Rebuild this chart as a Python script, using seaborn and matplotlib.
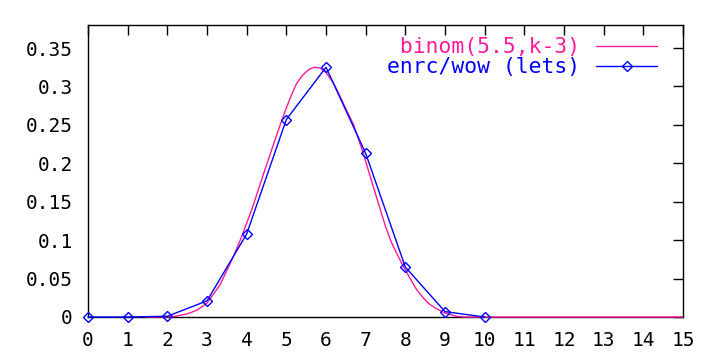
import matplotlib
matplotlib.use("Agg")
import matplotlib.pyplot as plt
import seaborn as sns
import pandas as pd

# measured series (enrc/wow (lets))
k_vals = [0, 1, 2, 3, 4, 5, 6, 7, 8, 9, 10]
lets_vals = [0.0, 0.0, 0.001, 0.021, 0.108, 0.257, 0.325, 0.213, 0.065, 0.007, 0.0]

# curve binom(5.5,k-3), values
curve_x = [1.5, 2.0, 2.15, 2.5, 2.75, 3.0, 3.33, 3.66, 3.83, 4.0, 4.15, 4.29, 4.45, 4.6,
           4.75, 4.9, 5.0, 5.13, 5.26, 5.4, 5.51, 5.6, 5.7, 5.85, 6.0, 6.18, 6.3, 6.5,
           6.69, 6.94, 7.19, 7.35, 7.5, 7.65, 7.8, 7.95, 8.1, 8.28, 8.45, 8.6, 8.78,
           8.96, 9.29, 9.5, 15.0]
curve_y = [0.0, 0.0002, 0.0005, 0.004, 0.009, 0.018, 0.042, 0.078, 0.099, 0.122, 0.143,
           0.165, 0.19, 0.213, 0.236, 0.258, 0.272, 0.289, 0.304, 0.314, 0.3195, 0.323,
           0.325, 0.324, 0.318, 0.305, 0.293, 0.271, 0.251, 0.213, 0.170, 0.143, 0.118,
           0.097, 0.081, 0.066, 0.052, 0.036, 0.025, 0.017, 0.011, 0.006, 0.0008, 0.0,
           0.0]

x_ticks = list(range(0, 16))
y_ticks = [0, 0.05, 0.1, 0.15, 0.2, 0.25, 0.3, 0.35]
y_tick_labels = ["0", "0.05", "0.1", "0.15", "0.2", "0.25", "0.3", "0.35"]

label_curve = " binom(5.5,k-3)"
label_data = "enrc/wow (lets)"

sns.set_style("white")
plt.rcParams["font.family"] = ["DejaVu Sans Mono", "DejaVu Sans"]

PINK = "#ff1a9c"
BLUE = "#0000ff"

fig = plt.figure(figsize=(7.2, 3.6), dpi=100)
ax = fig.add_axes([88 / 720, 1 - 317 / 360, (683 - 88) / 720, (317 - 25) / 360])

df_c = pd.DataFrame({"x": curve_x, "y": curve_y})
df_d = pd.DataFrame({"x": k_vals, "y": lets_vals})

sns.lineplot(data=df_c, x="x", y="y", ax=ax, color=PINK, lw=1.0, label=label_curve,
             clip_on=False, zorder=3, sort=True, estimator=None)
sns.lineplot(data=df_d, x="x", y="y", ax=ax, color=BLUE, lw=1.0, marker="D",
             markersize=5, markerfacecolor="none", markeredgecolor=BLUE,
             markeredgewidth=1.0, label=label_data, clip_on=False, zorder=4,
             estimator=None)

ax.set_xlim(0, 15)
ax.set_ylim(0, 0.38)
ax.set_xticks(x_ticks)
ax.set_xticklabels([str(v) for v in x_ticks])
ax.set_yticks(y_ticks)
ax.set_yticklabels(y_tick_labels)
ax.set_xlabel("")
ax.set_ylabel("")

for s in ax.spines.values():
    s.set_visible(True)
    s.set_color("black")
    s.set_linewidth(1.0)

ax.tick_params(axis="both", direction="in", length=7.2, width=1.0, color="black",
               top=True, right=True, labeltop=False, labelright=False,
               labelsize=14, labelcolor="black")
ax.tick_params(axis="y", pad=11)
ax.tick_params(axis="x", pad=10)

leg = ax.legend(loc="upper right", bbox_to_anchor=(1 - 26 / 595, 1 - 12 / 292),
                frameon=False, markerfirst=False, fontsize=15.4, handlelength=2.85,
                handletextpad=0.75, labelspacing=0.0, borderaxespad=0, borderpad=0)
for txt, col in zip(leg.get_texts(), [PINK, BLUE]):
    txt.set_color(col)

fig.savefig("out.png", dpi=100)
